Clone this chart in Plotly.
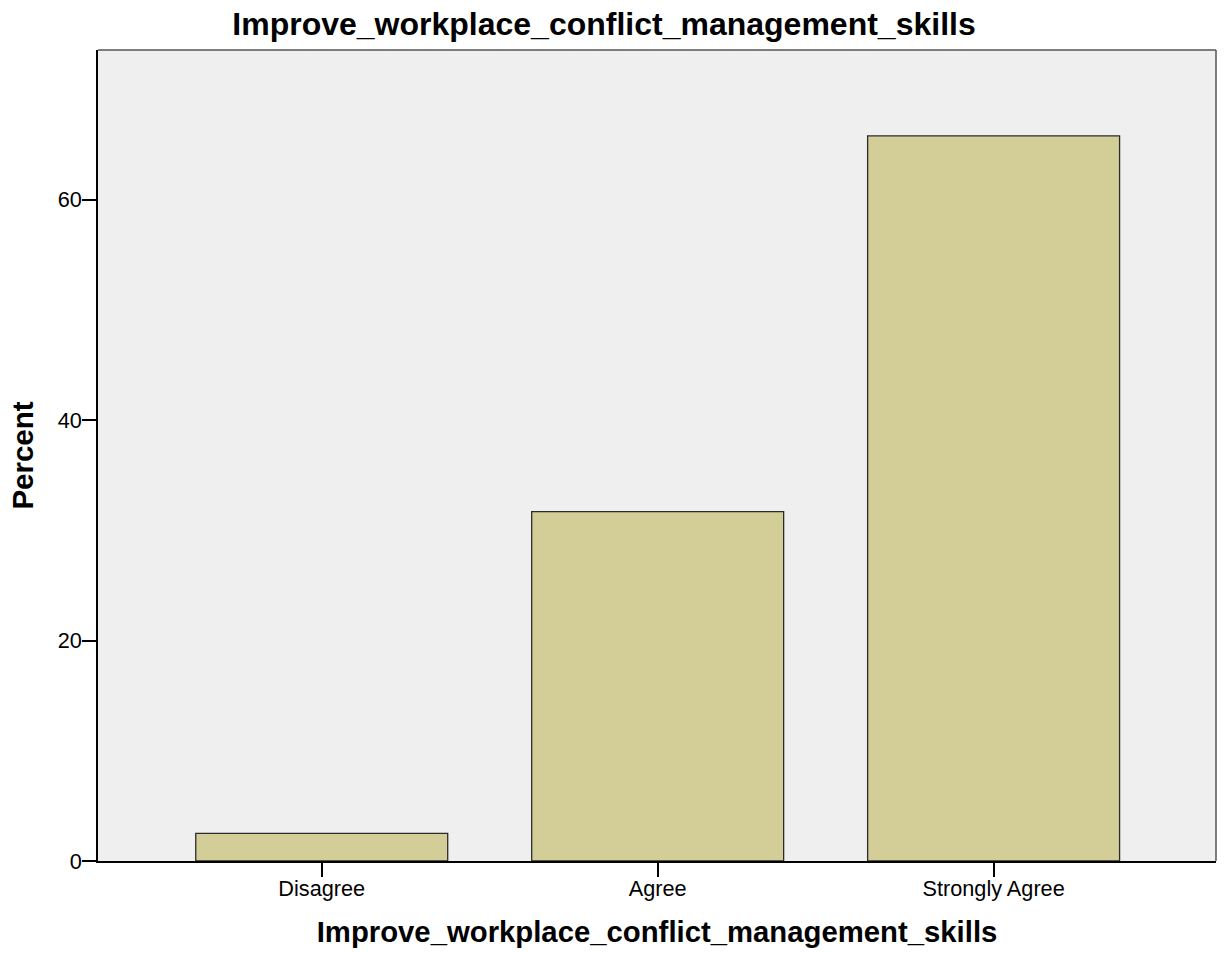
import plotly.graph_objects as go

categories = ["Disagree", "Agree", "Strongly Agree"]
percent = [2.5, 31.7, 65.8]
y_ticks = [0, 20, 40, 60]

FONT = "Liberation Sans, Arial, sans-serif"
title_text = "Improve_workplace_conflict_management_skills"

fig = go.Figure(
    go.Bar(
        x=[0, 1, 2],
        y=percent,
        width=0.75,
        marker=dict(color="#d3ce97", line=dict(color="#2b2b2b", width=1.3)),
    )
)

fig.update_layout(
    width=1224,
    height=953,
    margin=dict(l=98, r=8, t=50, b=92),
    paper_bgcolor="white",
    plot_bgcolor="#efefef",
    showlegend=False,
    font=dict(family=FONT, color="black"),
    title=dict(
        text="<b>" + title_text + "</b>",
        x=604 / 1224,
        xanchor="center",
        y=1 - 24 / 953,
        yanchor="middle",
        font=dict(size=32, family=FONT, color="black"),
    ),
    xaxis=dict(
        range=[-0.666, 2.662],
        tickvals=[0, 1, 2],
        ticktext=categories,
        showgrid=False,
        zeroline=False,
        showline=True,
        linecolor="black",
        linewidth=1.5,
        ticks="outside",
        ticklen=14,
        tickwidth=1.5,
        tickcolor="black",
        ticklabelstandoff=-7,
        tickfont=dict(size=21.7, family=FONT, color="black"),
        automargin=False,
        title=dict(
            text="<b>" + title_text + "</b>",
            font=dict(size=29.3, family=FONT, color="black"),
            standoff=22,
        ),
    ),
    yaxis=dict(
        range=[0, 73.6],
        tickvals=y_ticks,
        showgrid=False,
        zeroline=False,
        showline=True,
        linecolor="black",
        linewidth=1.5,
        ticks="outside",
        ticklen=14,
        tickwidth=1.5,
        tickcolor="black",
        ticklabelstandoff=-4,
        tickfont=dict(size=21.7, family=FONT, color="black"),
        automargin=False,
        title=dict(
            text="<b>Percent</b>",
            font=dict(size=29.5, family=FONT, color="black"),
            standoff=15,
        ),
    ),
    shapes=[
        dict(type="line", xref="paper", yref="paper", x0=0, x1=1, y0=1, y1=1,
             line=dict(color="#555555", width=1.5)),
        dict(type="line", xref="paper", yref="paper", x0=1, x1=1, y0=0, y1=1,
             line=dict(color="#555555", width=1.5)),
    ],
)

fig.write_html(
    "out.html",
    config={"displayModeBar": False},
    post_script="document.body.style.margin='0';document.body.style.overflow='hidden';",
)
